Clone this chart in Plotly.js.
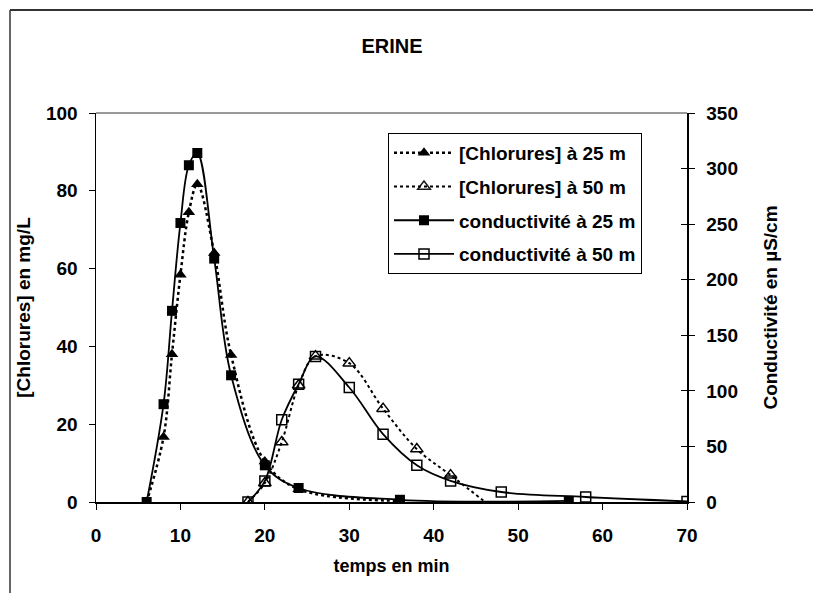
<!DOCTYPE html>
<html>
<head>
<meta charset="utf-8">
<script src="https://cdn.plot.ly/plotly-3.0.1.min.js"></script>
<style>
html,body{margin:0;padding:0;background:#fff;}
#chart{width:813px;height:593px;}
</style>
</head>
<body>
<div id="chart"></div>
<script>
// temps (min) and values
const chl25_t = [6, 8, 9, 10, 11, 12, 14, 16, 20, 24, 36];
const chl25_v = [0, 16.7, 38, 58.4, 74.5, 81.7, 64, 37.8, 10.4, 3.3, 0.3];

const chl50_t = [18, 20, 22, 24, 26, 30, 34, 38, 42, 47];
const chl50_v = [0, 4.9, 15.4, 30, 37.5, 35.7, 24, 13.6, 6.9, -1.5];

const cond25_t = [6, 8, 9, 10, 11, 12, 14, 16, 20, 24, 36, 56];
const cond25_v = [0, 88, 172, 251, 303, 314, 219, 114, 33, 12.6, 2, 1];

const cond50_t = [18, 20, 22, 24, 26, 30, 34, 38, 42, 48, 58, 70];
const cond50_v = [0, 19, 74, 106, 131, 103, 61, 33, 19, 9, 4.5, 0.5];

const xTicks = [0, 10, 20, 30, 40, 50, 60, 70];
const yLeftTicks = [0, 20, 40, 60, 80, 100];
const yRightTicks = [0, 50, 100, 150, 200, 250, 300, 350];

const FONT = 'Liberation Sans, Arial, sans-serif';
const FS = 19;

const chl50_opac = chl50_t.map((t, i) => i === chl50_t.length - 1 ? 0 : 1);

const traces = [
  {
    x: chl25_t, y: chl25_v, name: '[Chlorures] à 25 m', yaxis: 'y', legendgroup: 'a',
    mode: 'lines+markers', line: {color: '#000', width: 2.5, dash: 'dot', shape: 'spline', smoothing: 1},
    marker: {symbol: 'triangle-up', size: 11, color: '#000'}
  },
  {
    x: chl50_t, y: chl50_v, name: '[Chlorures] à 50 m', yaxis: 'y', legendgroup: 'b',
    mode: 'lines+markers',
    line: {color: '#000', width: 2, dash: 'dot', shape: 'spline', smoothing: 1},
    marker: {symbol: 'triangle-up-open', size: 11, color: '#000', opacity: chl50_opac, line: {width: 1.5, color: '#000'}}
  },
  {
    x: cond25_t, y: cond25_v, name: 'conductivité à 25 m', yaxis: 'y2', legendgroup: 'c',
    mode: 'lines+markers', line: {color: '#000', width: 1.8, shape: 'spline', smoothing: 1},
    marker: {symbol: 'square', size: 10, color: '#000'}
  },
  {
    x: cond50_t, y: cond50_v, name: 'conductivité à 50 m', yaxis: 'y2', legendgroup: 'd',
    mode: 'lines+markers', line: {color: '#000', width: 1.8, shape: 'spline', smoothing: 1},
    marker: {symbol: 'square-open', size: 10, color: '#000', line: {width: 1.5, color: '#000'}}
  },
  { // helper for inside ticks of the right axis
    x: [0], y: [0], yaxis: 'y3', mode: 'markers', marker: {opacity: 0}, showlegend: false, hoverinfo: 'skip'
  }
];

// paper coordinates for the outer frame
const pl = 96, pr = 687, pt = 113, pb = 502;
const px = v => (v - pl) / (pr - pl);
const py = v => (pb - v) / (pb - pt);

const tickFont = {family: FONT, size: FS, color: '#000', weight: 'bold'};
const titleFont = {family: FONT, size: FS, color: '#000'};

const layout = {
  width: 813, height: 593,
  margin: {l: pl, r: 813 - pr, t: pt, b: 593 - pb},
  paper_bgcolor: '#fff', plot_bgcolor: '#fff',
  font: {family: FONT, size: FS, color: '#000', weight: 'bold'},
  title: {text: '<b>ERINE</b>', x: 392 / 813, xanchor: 'center', y: 1 - 46 / 593, yanchor: 'middle',
          font: {family: FONT, size: 20, color: '#000'}},
  showlegend: true,
  legend: {
    x: px(388), y: py(133), xanchor: 'left', yanchor: 'top',
    bgcolor: '#fff', bordercolor: '#000', borderwidth: 1,
    font: {family: FONT, size: 19, color: '#000', weight: 'bold'},
    traceorder: 'grouped', tracegroupgap: 6, itemwidth: 60
  },
  xaxis: {
    range: [0, 70], tickvals: xTicks, ticktext: xTicks.map(String),
    showgrid: false, zeroline: false, showline: true, linecolor: '#000', linewidth: 1.5,
    ticks: 'outside', ticklen: 6, tickcolor: '#000', tickwidth: 1, ticklabelstandoff: 10,
    tickfont: tickFont,
    title: {text: '<b>temps en min</b>', font: {family: FONT, size: 18, color: '#000'}, standoff: 14}
  },
  yaxis: {
    range: [0, 100], tickvals: yLeftTicks, ticktext: yLeftTicks.map(String),
    showgrid: false, zeroline: false, showline: true, linecolor: '#000', linewidth: 1.5,
    ticks: 'outside', ticklen: 6, tickcolor: '#000', tickwidth: 1, ticklabelstandoff: 7,
    tickfont: tickFont,
    title: {text: '<b>[Chlorures] en mg/L</b>', font: titleFont, standoff: 10}
  },
  yaxis2: {
    range: [0, 350], tickvals: yRightTicks, ticktext: yRightTicks.map(String),
    overlaying: 'y', side: 'right', anchor: 'x',
    showgrid: false, zeroline: false, showline: true, linecolor: '#000', linewidth: 1.5,
    ticks: 'outside', ticklen: 6, tickcolor: '#000', tickwidth: 1, ticklabelstandoff: 8,
    tickfont: tickFont,
    title: {text: '<b>Conductivité en µS/cm</b>', font: titleFont, standoff: 26}
  },
  yaxis3: {
    range: [0, 350], tickvals: yRightTicks, overlaying: 'y', side: 'right', anchor: 'x',
    showgrid: false, zeroline: false, showline: false, showticklabels: false,
    ticks: 'inside', ticklen: 6, tickcolor: '#000', tickwidth: 1
  },
  shapes: [
    // grey top border of plot area
    {type: 'line', xref: 'paper', yref: 'paper', x0: 0, x1: 1, y0: 1, y1: 1, line: {color: '#999', width: 2}},
    // outer chart frame (top and left)
    {type: 'line', xref: 'paper', yref: 'paper', x0: px(10), x1: px(813), y0: py(10), y1: py(10), line: {color: '#333', width: 2}},
    {type: 'line', xref: 'paper', yref: 'paper', x0: px(10), x1: px(10), y0: py(10), y1: py(593), line: {color: '#333', width: 1.5}}
  ]
};

Plotly.newPlot('chart', traces, layout, {staticPlot: true, displayModeBar: false});
</script>
</body>
</html>
